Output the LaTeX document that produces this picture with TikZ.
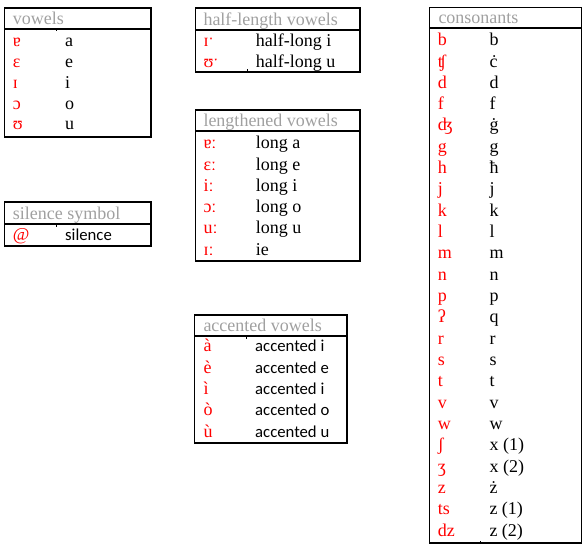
\documentclass[tikz,border=0pt]{standalone}
\usepackage{fontspec}
\setmainfont{Liberation Serif}
\newfontfamily\calibfont{Carlito}
\definecolor{ttlgray}{RGB}{160,160,160}
\definecolor{ipared}{RGB}{255,0,0}
\begin{document}
\begin{tikzpicture}[x=1pt,y=-1pt,
  boxline/.style={line width=1.2pt,black},
  tickline/.style={line width=0.8pt,black},
  ttl/.style={anchor=base west,inner sep=0pt,text=ttlgray,font=\fontsize{18}{21}\selectfont},
  ipa/.style={anchor=base west,inner sep=0pt,text=ipared,font=\fontsize{18}{21}\selectfont},
  val/.style={anchor=base west,inner sep=0pt,text=black,font=\fontsize{18}{21}\selectfont},
  sval/.style={anchor=base west,inner sep=0pt,text=black,font=\calibfont\fontsize{16.7}{20}\selectfont}]
\useasboundingbox (0,0) rectangle (586,548);
% boxes
\draw[boxline] (4.5,8) rectangle (151,137);
\draw[boxline] (4.5,29) -- (151,29);
\draw[tickline] (56.7,29) -- ++(0,2.5);
\node[ttl] (tv) at (12.7,25) {vowels};
\draw[boxline] (4.5,202) rectangle (151,246);
\draw[boxline] (4.5,224) -- (151,224);
\draw[tickline] (56.7,224) -- ++(0,2.5);
\node[ttl] (ts) at (12.7,219.5) {silence symbol};
\draw[boxline] (195.5,8) rectangle (360,72);
\draw[boxline] (195.5,30) -- (360,30);
\draw[tickline] (247.3,72) -- ++(0,-2.5);
\node[ttl] (th) at (203.3,25.5) {half-length vowels};
\draw[boxline] (195.5,110) rectangle (360,261);
\draw[boxline] (195.5,131) -- (360,131);
\node[ttl] (tl) at (203.3,127) {lengthened vowels};
\draw[boxline] (194.5,315) rectangle (347,443);
\draw[boxline] (194.5,336) -- (347,336);
\draw[tickline] (246.7,336) -- ++(0,2.5);
\node[ttl] (ta) at (203.3,331.5) {accented vowels};
\draw[boxline] (429.5,7.5) rectangle (581.7,543);
\draw[boxline] (429.5,28) -- (581.7,28);
\draw[tickline] (480.3,543) -- ++(0,-2.5);
\node[ttl] (tc) at (438.3,24) {consonants};
% vowels
\foreach \p/\q [count=\k] in {ɐ/a,ɛ/e,ɪ/i,ɔ/o,ʊ/u}{
  \node[ipa] (vr\k) at (12.7,{47+(\k-1)*20.75}) {\p};
  \node[val] (vv\k) at (65,{47+(\k-1)*20.75}) {\q};
}
% silence
\node[ipa] (sr1) at (12.7,240.5) {@};
\node[sval] (sv1) at (65,240.5) {silence};
% half-length
\foreach \p/\q [count=\k] in {ɪˑ/half-long i,ʊˑ/half-long u}{
  \node[ipa] (hr\k) at (203.3,{47+(\k-1)*20.5}) {\p};
  \node[val] (hv\k) at (255.7,{47+(\k-1)*20.5}) {\q};
}
% lengthened
\foreach \p/\q [count=\k] in {ɐː/long a,ɛː/long e,iː/long i,ɔː/long o,uː/long u,ɪː/ie}{
  \node[ipa] (lr\k) at (203.3,{149+(\k-1)*21.2}) {\p};
  \node[val] (lv\k) at (255.7,{149+(\k-1)*21.2}) {\q};
}
% accented
\foreach \p/\q [count=\k] in {à/accented i,è/accented e,ì/accented i,ò/accented o,ù/accented u}{
  \node[ipa] (ar\k) at (203.3,{351.7+(\k-1)*21.4}) {\p};
  \node[sval] (av\k) at (255,{351.7+(\k-1)*21.4}) {\q};
}
% consonants
\foreach \p/\q [count=\k] in {b/b,ʧ/ċ,d/d,f/f,ʤ/ġ,g/g,h/ħ,j/j,k/k,l/l,m/m,n/n,p/p,ʔ/q,r/r,s/s,t/t,v/v,w/w,ʃ/x (1),ʒ/x (2),z/ż,ts/z (1),dz/z (2)}{
  \node[ipa] (cr\k) at (437.7,{45.7+(\k-1)*21.32}) {\p};
  \node[val] (cv\k) at (489.3,{45.7+(\k-1)*21.32}) {\q};
}
\end{tikzpicture}
\end{document}
